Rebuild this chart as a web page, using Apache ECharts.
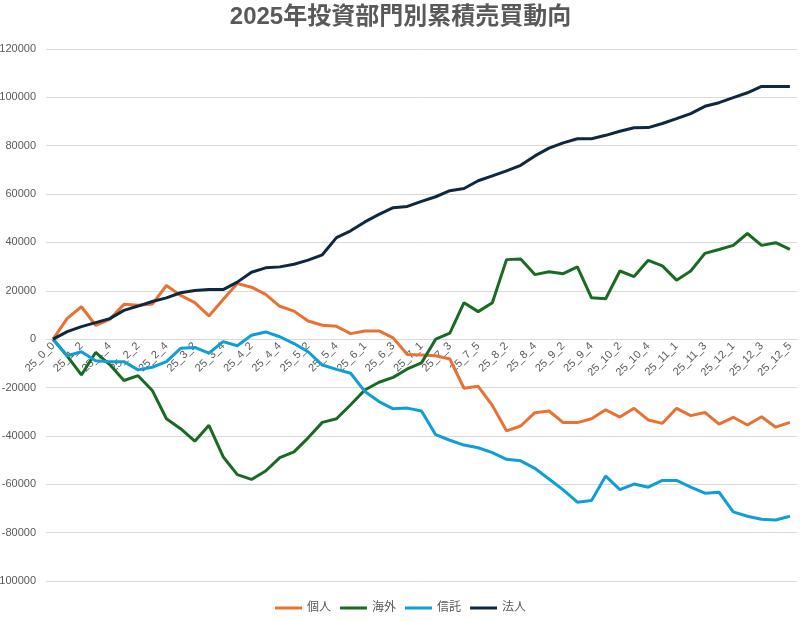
<!DOCTYPE html>
<html>
<head>
<meta charset="utf-8">
<script src="https://cdn.jsdelivr.net/npm/echarts@6/dist/echarts.min.js"></script>
<style>
  html, body { margin: 0; padding: 0; background: #fff; }
  #chart { width: 801px; height: 621px; }
</style>
</head>
<body>
<div id="chart"></div>
<script>
// 週ラベル（年_月_週）
const weeks = [
  '25_0_0',
  '25_1_1','25_1_2','25_1_3','25_1_4',
  '25_2_1','25_2_2','25_2_3','25_2_4',
  '25_3_1','25_3_2','25_3_3','25_3_4',
  '25_4_1','25_4_2','25_4_3','25_4_4',
  '25_5_1','25_5_2','25_5_3','25_5_4','25_5_5',
  '25_6_1','25_6_2','25_6_3','25_6_4',
  '25_7_1','25_7_2','25_7_3','25_7_4','25_7_5',
  '25_8_1','25_8_2','25_8_3','25_8_4',
  '25_9_1','25_9_2','25_9_3','25_9_4',
  '25_10_1','25_10_2','25_10_3','25_10_4','25_10_5',
  '25_11_1','25_11_2','25_11_3','25_11_4',
  '25_12_1','25_12_2','25_12_3','25_12_4','25_12_5'
];

const kojin = [
  0, 8600, 13400, 5750, 8200, 14400, 14000, 14500, 22200, 18100, 15100, 9600, 16400,
  23000, 21500, 18500, 13600, 11600, 7500, 5750, 5300, 2300, 3400, 3400, 550, -6300,
  -6500, -6850, -8200, -20300, -19500, -27400, -37900, -35900, -30400, -29700, -34500, -34500, -32900,
  -29200, -32200, -28600, -33400, -34800, -28600, -31600, -30300, -35100, -32300, -35500, -32100, -36400, -34400
];

const kaigai = [
  0, -7000, -14800, -5500, -10500, -17100, -15100, -21200, -32900, -37000, -42200, -35600, -48600,
  -56000, -58000, -54500, -49000, -46600, -40800, -34400, -32900, -27100, -21000, -17800, -15800, -12300,
  -9800, 0, 2500, 15100, 11400, 15100, 32900, 33200, 26700, 27900, 27100, 29900, 17100,
  16700, 28200, 25900, 32600, 30300, 24400, 28200, 35500, 37100, 38800, 43700, 38800, 39900, 37100
];

const shintaku = [
  0, -6850, -5200, -8900, -9300, -9300, -12700, -11600, -9300, -3800, -3400, -5750, -1000,
  -2700, 1600, 3000, 1000, -1800, -5200, -10700, -12500, -14100, -21600, -25800, -28800, -28500,
  -29700, -39500, -41800, -43800, -44900, -46900, -49700, -50300, -53400, -57800, -62300, -67400, -66700,
  -56600, -62200, -59900, -61200, -58400, -58400, -61200, -63700, -63300, -71400, -73200, -74500, -74800, -73200
];

const hojin = [
  0, 3150, 5200, 6850, 8500, 11900, 13700, 15600, 17100, 19200, 20100, 20500, 20500,
  23600, 27700, 29500, 29900, 31000, 32700, 34900, 42000, 44800, 48500, 51600, 54400, 54900,
  57000, 58900, 61400, 62300, 65500, 67500, 69600, 71900, 75800, 79000, 81200, 82900, 82900,
  84300, 86000, 87400, 87500, 89200, 91200, 93300, 96300, 97800, 99900, 101900, 104500, 104500, 104500
];

const seriesNames = ['個人', '海外', '信託', '法人'];
const seriesColors = ['#E97132', '#196B24', '#0F9ED5', '#0E2841'];
const seriesData = [kojin, kaigai, shintaku, hojin];

const yMin = -100000;
const yMax = 120000;

const font = '"Liberation Sans", "Noto Sans CJK JP", sans-serif';

const gridTop = 49;
const gridBottom = 40;
const gridHeight = 621 - gridTop - gridBottom;
// カテゴリ軸を 0 の位置へ移動
const zeroOffset = -gridHeight * (0 - yMin) / (yMax - yMin);

const chart = echarts.init(document.getElementById('chart'));
chart.setOption({
  animation: false,
  textStyle: { fontFamily: font },
  title: {
    text: '2025年投資部門別累積売買動向',
    left: 'center',
    top: 0,
    textStyle: { fontSize: 24, fontWeight: 'bold', color: '#595959', fontFamily: font }
  },
  legend: {
    bottom: 2,
    left: 'center',
    itemWidth: 27,
    itemHeight: 3,
    itemGap: 9,
    icon: 'rect',
    textStyle: { color: '#595959', fontSize: 12 },
    data: seriesNames
  },
  grid: { left: 46, right: 4, top: gridTop, bottom: gridBottom, outerBoundsMode: 'none' },
  xAxis: {
    type: 'category',
    data: weeks,
    boundaryGap: true,
    offset: zeroOffset,
    axisLine: { onZero: false, lineStyle: { color: '#D9D9D9', width: 1 } },
    axisTick: { show: false },
    axisLabel: { interval: 1, rotate: 45, color: '#595959', fontSize: 11, margin: 5 }
  },
  yAxis: {
    type: 'value',
    min: yMin,
    max: yMax,
    interval: 20000,
    axisLine: { show: false },
    axisTick: { show: false },
    axisLabel: { color: '#595959', fontSize: 11, margin: 10, formatter: (v) => String(v) },
    splitLine: { lineStyle: { color: '#D9D9D9', width: 1 } }
  },
  series: seriesNames.map((name, k) => ({
    name: name,
    type: 'line',
    data: seriesData[k],
    symbol: 'none',
    color: seriesColors[k],
    lineStyle: { width: 3, color: seriesColors[k] }
  }))
});
</script>
</body>
</html>
